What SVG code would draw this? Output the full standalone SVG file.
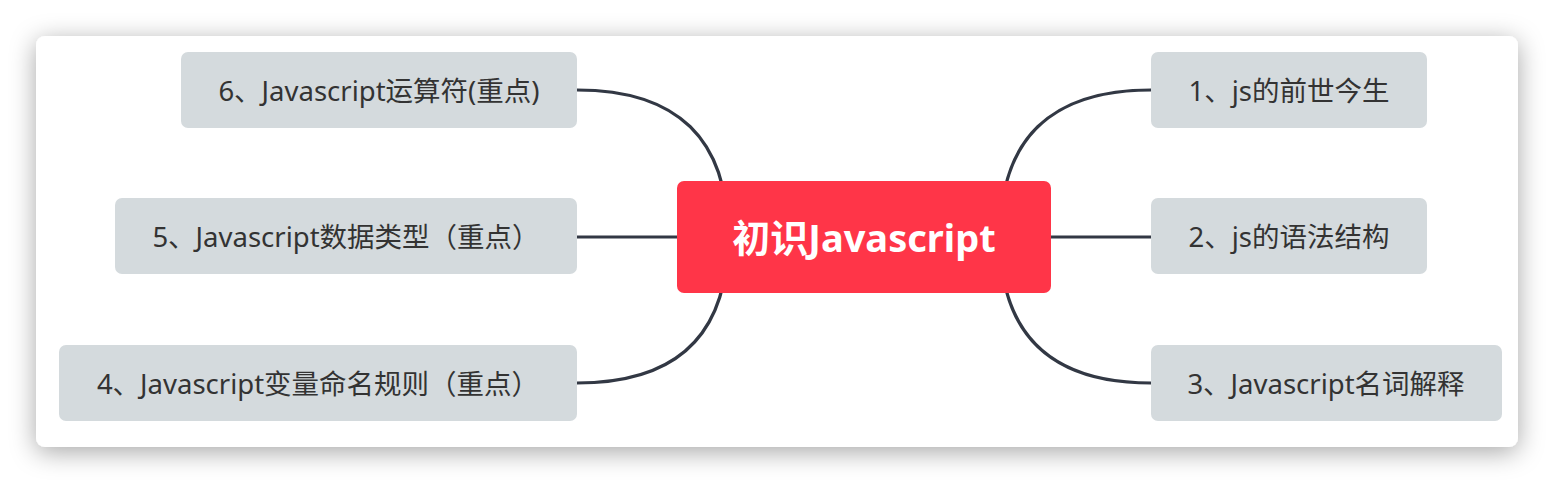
<svg xmlns="http://www.w3.org/2000/svg" width="1554" height="484" viewBox="0 0 1554 484">
<style>
.sub rect{fill:#D4DADD}
.sub text{font-family:"Noto Sans","Noto Sans CJK SC",sans-serif;font-size:27.5px;fill:#333333;text-anchor:middle}
.conn path{fill:none;stroke:#323844;stroke-width:3.2;stroke-linecap:round}
</style>
<defs>
<filter id="sh" x="-10%" y="-25%" width="120%" height="150%">
<feDropShadow dx="0" dy="5" stdDeviation="13" flood-color="#000" flood-opacity="0.35"/>
</filter>
</defs>
<rect width="1554" height="484" fill="#ffffff"/>
<rect id="card" x="36" y="36" width="1482" height="411" rx="9" fill="#ffffff" filter="url(#sh)"/>
<g id="connectors" class="conn">
<path d="M1000 237 Q1000 90 1151 90"/>
<path d="M1051 237 L1151 237"/>
<path d="M1000 237 Q1000 383 1151 383"/>
<path d="M728 237 Q728 90 577 90"/>
<path d="M677 237 L577 237"/>
<path d="M728 237 Q728 383 577 383"/>
</g>
<g id="root">
<rect x="677" y="181" width="374" height="112" rx="7" fill="#FF3548"/>
<text x="864" y="252" font-family="Noto Sans,'Noto Sans CJK SC',sans-serif" font-size="38" font-weight="bold" fill="#ffffff" text-anchor="middle">初识Javascript</text>
</g>
<g id="n1" class="sub"><rect x="1151" y="52" width="276" height="76" rx="7"/><text x="1289" y="101">1、js的前世今生</text></g>
<g id="n2" class="sub"><rect x="1151" y="198" width="276" height="76" rx="7"/><text x="1289" y="247">2、js的语法结构</text></g>
<g id="n3" class="sub"><rect x="1151" y="345" width="351" height="76" rx="7"/><text x="1326" y="394">3、Javascript名词解释</text></g>
<g id="n6" class="sub"><rect x="181" y="52" width="396" height="76" rx="7"/><text x="379" y="101">6、Javascript运算符(重点)</text></g>
<g id="n5" class="sub"><rect x="115" y="198" width="462" height="76" rx="7"/><text x="346" y="247">5、Javascript数据类型（重点）</text></g>
<g id="n4" class="sub"><rect x="59" y="345" width="518" height="76" rx="7"/><text x="318" y="394">4、Javascript变量命名规则（重点）</text></g>
</svg>
